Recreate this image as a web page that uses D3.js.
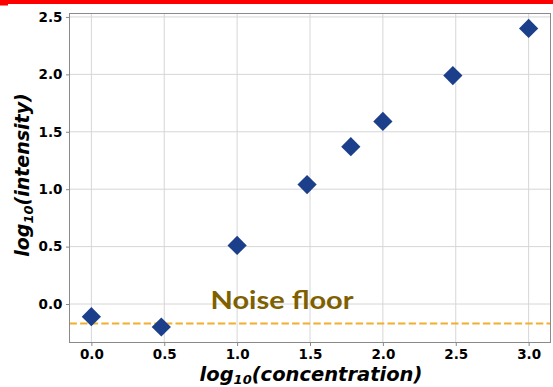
<!DOCTYPE html>
<html>
<head>
<meta charset="utf-8">
<script src="https://cdn.jsdelivr.net/npm/d3@7"></script>
<style>
  html, body { margin: 0; padding: 0; background: #fff; }
  svg { display: block; }
</style>
</head>
<body>
<svg id="chart" width="553" height="387"></svg>
<script>
// ---- data ----
const logConcentration = [0.0, 0.48, 1.0, 1.48, 1.78, 2.0, 2.48, 3.0];
const logIntensity = [-0.11, -0.20, 0.51, 1.04, 1.37, 1.59, 1.99, 2.40];
const xTicks = [0.0, 0.5, 1.0, 1.5, 2.0, 2.5, 3.0];
const yTicks = [0.0, 0.5, 1.0, 1.5, 2.0, 2.5];
const noiseFloor = -0.17;
const noiseLabel = "Noise floor";

(function () {
const svg = d3.select("#chart");
const W = 553, H = 387;
const pLeft = 69.5, pRight = 550.5, pTop = 13.5, pBottom = 342.5;

const x = d3.scaleLinear().domain([-0.15, 3.15]).range([pLeft, pRight]);
const y = d3.scaleLinear().domain([-0.335, 2.53]).range([pBottom, pTop]);

// red top bar
svg.append("rect").attr("x", 0).attr("y", 0).attr("width", W).attr("height", 4).attr("fill", "#ff0000");
svg.append("rect").attr("x", 0).attr("y", 4).attr("width", 8).attr("height", 1.5).attr("fill", "#ff0000");

// gridlines
const grid = svg.append("g");
grid.selectAll("line.vx").data(xTicks).join("line")
  .attr("class", "vx")
  .attr("x1", d => x(d)).attr("x2", d => x(d)).attr("y1", pTop).attr("y2", pBottom)
  .attr("stroke", "#d6d6d6").attr("stroke-width", 1);
grid.selectAll("line.hy").data(yTicks).join("line")
  .attr("class", "hy")
  .attr("y1", d => y(d)).attr("y2", d => y(d)).attr("x1", pLeft).attr("x2", pRight)
  .attr("stroke", "#d6d6d6").attr("stroke-width", 1);

// noise floor dashed line
svg.append("line")
  .attr("x1", pLeft).attr("x2", pRight)
  .attr("y1", y(noiseFloor)).attr("y2", y(noiseFloor))
  .attr("stroke", "#f2ae2e").attr("stroke-width", 2)
  .attr("stroke-dasharray", "7.4,3.2");

// noise floor label
svg.append("text")
  .attr("x", 210.5).attr("y", 308.5)
  .attr("font-family", "Lato, 'Open Sans', sans-serif")
  .attr("font-weight", "bold")
  .attr("font-size", 24.5)
  .attr("fill", "#7f6000")
  .attr("textLength", 143).attr("lengthAdjust", "spacingAndGlyphs")
  .text(noiseLabel);

// axes
const xAxis = d3.axisBottom(x).tickValues(xTicks).tickFormat(d3.format(".1f")).tickSize(3.5).tickPadding(3.5);
const yAxis = d3.axisLeft(y).tickValues(yTicks).tickFormat(d3.format(".1f")).tickSize(3.5).tickPadding(3.5);

const gx = svg.append("g").attr("transform", `translate(0,${pBottom})`).call(xAxis);
const gy = svg.append("g").attr("transform", `translate(${pLeft},0)`).call(yAxis);
[gx, gy].forEach(g => {
  g.select(".domain").remove();
  g.selectAll(".tick line").attr("stroke", "#888");
  g.selectAll(".tick text")
    .attr("font-family", "'DejaVu Sans', sans-serif")
    .attr("font-weight", "bold")
    .attr("font-size", 13.5)
    .attr("fill", "#000");
});

// frame
svg.append("rect")
  .attr("x", pLeft).attr("y", pTop).attr("width", pRight - pLeft).attr("height", pBottom - pTop)
  .attr("fill", "none").attr("stroke", "#8a8a8a").attr("stroke-width", 1);

// points (diamonds)
const pts = logConcentration.map((c, i) => ({c, v: logIntensity[i]}));
const sym = d3.symbol().type(d3.symbolSquare).size(185);
svg.append("g").selectAll("path").data(pts).join("path")
  .attr("d", sym)
  .attr("transform", d => `translate(${x(d.c)},${y(d.v)}) rotate(45)`)
  .attr("fill", "#1c3f8c");

// axis labels
function axisLabel(sel, word, fs, shift) {
  sel.attr("font-family", "'DejaVu Sans', sans-serif")
    .attr("font-weight", "bold")
    .attr("font-style", "italic")
    .attr("font-size", fs)
    .attr("fill", "#000")
    .attr("text-anchor", "middle");
  sel.append("tspan").text("log");
  sel.append("tspan").attr("font-size", 13).attr("dy", shift).text("10");
  sel.append("tspan").attr("dy", -shift).text("(" + word + ")");
}
const xl = svg.append("text").attr("x", (pLeft + pRight) / 2 + 1).attr("y", 380.5);
axisLabel(xl, "concentration", 19.5, 3.2);
const yl = svg.append("text").attr("transform", `translate(29,${(pTop + pBottom) / 2 - 3}) rotate(-90)`);
axisLabel(yl, "intensity", 19, 3.6);
})();
</script>
</body>
</html>
